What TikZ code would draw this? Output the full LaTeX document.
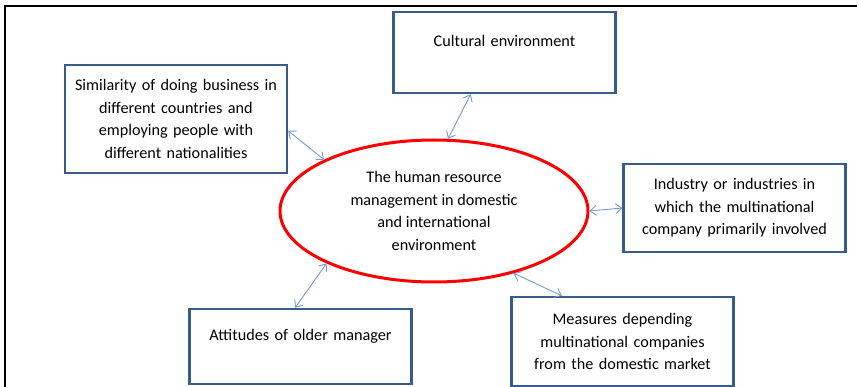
\documentclass[tikz,border=0pt]{standalone}
\usepackage{fontspec}
\setmainfont{Carlito}
\usetikzlibrary{shapes.geometric,arrows.meta}
\definecolor{boxblue}{RGB}{56,93,138}
\definecolor{linkblue}{RGB}{115,155,208}
\begin{document}
\begin{tikzpicture}[
    x=1pt, y=-1pt,
    every node/.style={font=\fontsize{16.2}{22.5}\selectfont, align=center, inner sep=0pt},
    factor/.style={rectangle, draw=boxblue, line width=2.4pt, minimum width=222pt, text width=210pt},
    core/.style={ellipse, draw=red, line width=3pt, minimum width=308pt, minimum height=142pt},
    link/.style={<->, draw=linkblue, line width=0.9pt},
    >={Straight Barb[length=6pt,width=10pt]}
  ]
  \useasboundingbox (0,0) rectangle (859,387);
  \draw[line width=2pt] (5,387) -- (5,6) -- (857,6);
  \node (hrm) [core] at (434,211) {The human resource\\management in domestic\\and international\\environment};
  \node (cult) [factor, minimum height=81pt] at (504.5,52.5) {Cultural environment\\~};
  \node (sim) [factor, minimum height=108pt] at (176,119) {Similarity of doing business in\\different countries and\\employing people with\\different nationalities};
  \node (ind) [factor, minimum height=88pt] at (734.5,208) {Industry or industries in\\which the multinational\\company primarily involved};
  \node (meas) [factor, minimum height=89pt] at (622.5,341.5) {Measures depending\\multinational companies\\from the domestic market};
  \node (att) [factor, minimum height=75pt] at (300.5,346.5) {Attitudes of older manager\\~};
  \draw[link] (sim.-6) -- (hrm.155);
  \draw[link] (cult.231) -- (hrm.79);
  \draw[link] (hrm.east) -- (ind.west);
  \draw[link] (hrm.-38) -- (meas.143);
  \draw[link] (hrm.206) -- (att.98);
\end{tikzpicture}
\end{document}
